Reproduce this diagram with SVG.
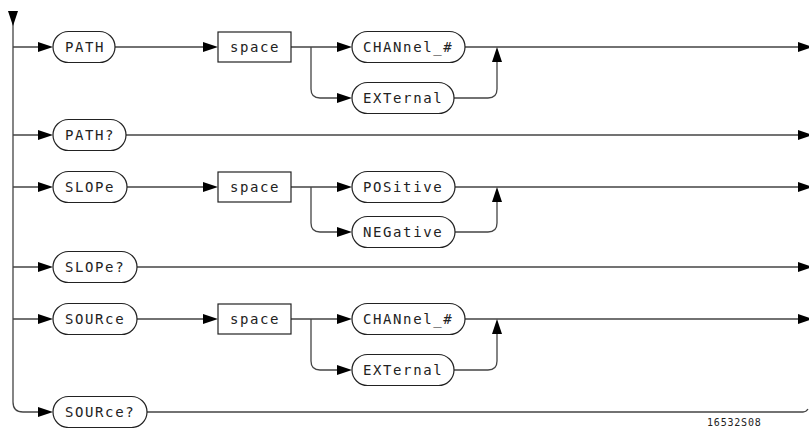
<svg xmlns="http://www.w3.org/2000/svg" xmlns:xlink="http://www.w3.org/1999/xlink" width="809" height="428" viewBox="0 0 809 428">
<style>
.ln{fill:none;stroke:#444;stroke-width:1.3}
.nd{fill:#fff;stroke:#222;stroke-width:1.2}
.tx{font-family:"DejaVu Sans Mono","Liberation Mono",monospace;font-size:14px;letter-spacing:1.6px;fill:#222}
.ft{font-family:"DejaVu Sans Mono","Liberation Mono",monospace;font-size:10px;letter-spacing:0.8px;fill:#222}
.ah{fill:#000}
</style>
<defs>
<path id="ah" d="M0,0 L-15,-5 L-15,5 Z"/>
</defs>
<rect width="809" height="428" fill="#fff"/>
<g id="connectors">
<!-- main vertical -->
<path class="ln" d="M13,12 V402 Q13,412 23,412 H38"/>
<use href="#ah" class="ah" transform="translate(13,26) rotate(90)"/>
<!-- row stubs -->
<path class="ln" d="M13,47 H38 M13,135 H38 M13,187 H38 M13,267 H38 M13,319 H38"/>
<use href="#ah" class="ah" transform="translate(53,47)"/>
<use href="#ah" class="ah" transform="translate(53,135)"/>
<use href="#ah" class="ah" transform="translate(53,187)"/>
<use href="#ah" class="ah" transform="translate(53,267)"/>
<use href="#ah" class="ah" transform="translate(53,319)"/>
<use href="#ah" class="ah" transform="translate(53,412)"/>
<!-- row 1 PATH -->
<path class="ln" d="M115,47 H203 M291,47 H337 M311,47 V89 Q311,98 320,98 H337 M465,47 H798 M454,98 H488 Q497,98 497,89 V62"/>
<use href="#ah" class="ah" transform="translate(218,47)"/>
<use href="#ah" class="ah" transform="translate(352,47)"/>
<use href="#ah" class="ah" transform="translate(352,98)"/>
<use href="#ah" class="ah" transform="translate(497,47) rotate(-90)"/>
<use href="#ah" class="ah" transform="translate(813,47)"/>
<!-- row 2 PATH? -->
<path class="ln" d="M126,135 H798"/>
<use href="#ah" class="ah" transform="translate(813,135)"/>
<!-- row 3 SLOPe -->
<path class="ln" d="M127,187 H203 M291,187 H337 M311,187 V223 Q311,232 320,232 H337 M455,187 H798 M455,232 H488 Q497,232 497,223 V202"/>
<use href="#ah" class="ah" transform="translate(218,187)"/>
<use href="#ah" class="ah" transform="translate(352,187)"/>
<use href="#ah" class="ah" transform="translate(352,232)"/>
<use href="#ah" class="ah" transform="translate(497,187) rotate(-90)"/>
<use href="#ah" class="ah" transform="translate(813,187)"/>
<!-- row 4 SLOPe? -->
<path class="ln" d="M137,267 H798"/>
<use href="#ah" class="ah" transform="translate(813,267)"/>
<!-- row 5 SOURce -->
<path class="ln" d="M137,319 H203 M291,319 H337 M311,319 V361 Q311,370 320,370 H337 M465,319 H798 M454,370 H488 Q497,370 497,361 V334"/>
<use href="#ah" class="ah" transform="translate(218,319)"/>
<use href="#ah" class="ah" transform="translate(352,319)"/>
<use href="#ah" class="ah" transform="translate(352,370)"/>
<use href="#ah" class="ah" transform="translate(497,319) rotate(-90)"/>
<use href="#ah" class="ah" transform="translate(813,319)"/>
<!-- row 6 SOURce? -->
<path class="ln" d="M147,412 H803 Q806,412 808,409"/>
</g>
<g id="n-path"><rect class="nd" x="53" y="31.5" width="62" height="31" rx="15.5"/><text class="tx" x="65" y="52">PATH</text></g>
<g id="n-space1"><rect class="nd" x="218" y="32" width="73" height="30"/><text class="tx" x="230" y="52">space</text></g>
<g id="n-chan1"><rect class="nd" x="352" y="31.5" width="113" height="31" rx="15.5"/><text class="tx" x="363" y="52">CHANnel_#</text></g>
<g id="n-ext1"><rect class="nd" x="352" y="82.5" width="102" height="31" rx="15.5"/><text class="tx" x="363" y="103">EXTernal</text></g>
<g id="n-pathq"><rect class="nd" x="53" y="119.5" width="73" height="31" rx="15.5"/><text class="tx" x="65" y="140">PATH?</text></g>
<g id="n-slope"><rect class="nd" x="53" y="171.5" width="74" height="31" rx="15.5"/><text class="tx" x="65" y="192">SLOPe</text></g>
<g id="n-space2"><rect class="nd" x="218" y="172" width="73" height="30"/><text class="tx" x="230" y="192">space</text></g>
<g id="n-pos"><rect class="nd" x="352" y="171.5" width="103" height="31" rx="15.5"/><text class="tx" x="363" y="192">POSitive</text></g>
<g id="n-neg"><rect class="nd" x="352" y="216.5" width="103" height="31" rx="15.5"/><text class="tx" x="363" y="237">NEGative</text></g>
<g id="n-slopeq"><rect class="nd" x="53" y="251.5" width="84" height="31" rx="15.5"/><text class="tx" x="65" y="272">SLOPe?</text></g>
<g id="n-source"><rect class="nd" x="53" y="303.5" width="84" height="31" rx="15.5"/><text class="tx" x="65" y="324">SOURce</text></g>
<g id="n-space3"><rect class="nd" x="218" y="304" width="73" height="30"/><text class="tx" x="230" y="324">space</text></g>
<g id="n-chan3"><rect class="nd" x="352" y="303.5" width="113" height="31" rx="15.5"/><text class="tx" x="363" y="324">CHANnel_#</text></g>
<g id="n-ext3"><rect class="nd" x="352" y="354.5" width="102" height="31" rx="15.5"/><text class="tx" x="363" y="375">EXTernal</text></g>
<g id="n-sourceq"><rect class="nd" x="53" y="396.5" width="94" height="31" rx="15.5"/><text class="tx" x="65" y="417">SOURce?</text></g>
<text class="ft" x="707" y="426">16532S08</text>
</svg>
